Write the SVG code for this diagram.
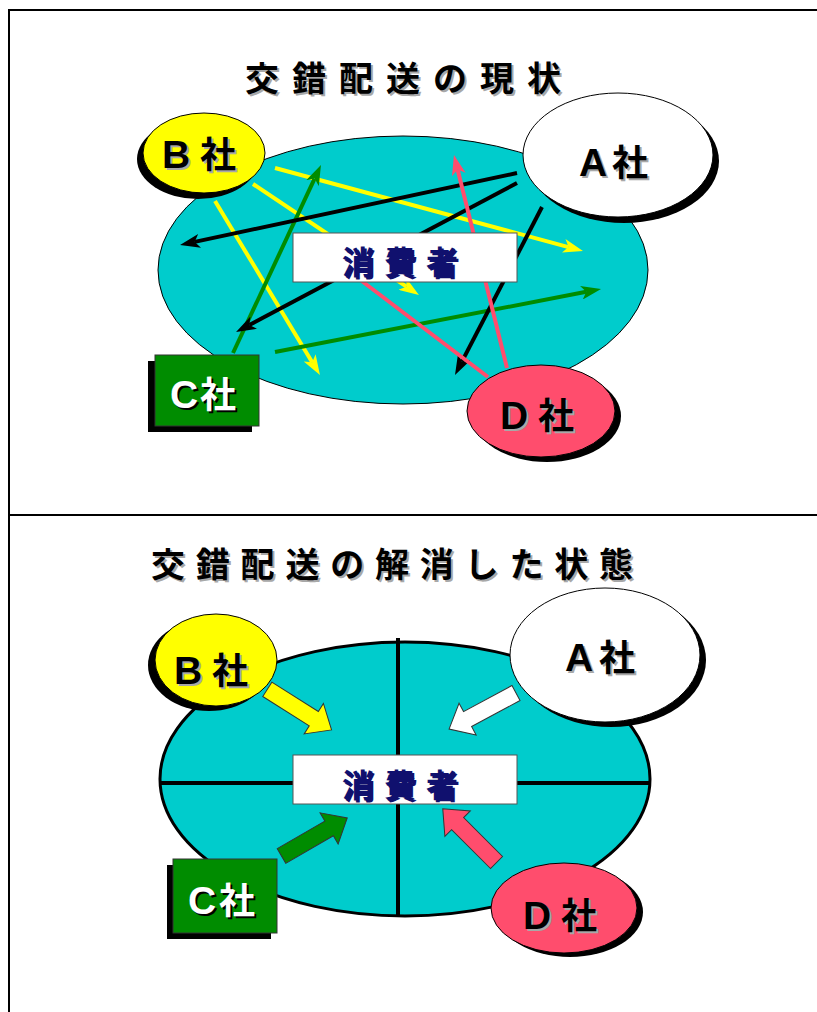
<svg xmlns="http://www.w3.org/2000/svg" width="817" height="1012" viewBox="0 0 817 1012">
<style>
.t{font-family:"Noto Sans CJK JP","Noto Sans CJK SC",sans-serif;font-weight:bold}
.lat{font-family:"Liberation Sans",Arial,sans-serif;font-weight:bold;font-size:39px}
.title{font-size:34px;fill:#000}
.lbl{font-size:36px;fill:#000}
.sh{fill:#a8a8a8}
.shd{fill:#000}
.wt{fill:#fff}
.cons{font-size:32px;fill:#10106e;letter-spacing:10px}
.box{fill:#fff;stroke:#555;stroke-width:1}
.big{fill:#00cccc;stroke:#000}
.ln{stroke-width:4;fill:none}
.barrow{stroke:#333;stroke-width:1}
</style>
<defs>
<marker id="mY" viewBox="0 0 20 14" refX="5" refY="7" markerWidth="20" markerHeight="14" markerUnits="userSpaceOnUse" orient="auto"><path d="M0,0 L20,7 L0,14 L5,7 Z" fill="#ffff00"/></marker>
<marker id="mG" viewBox="0 0 20 14" refX="5" refY="7" markerWidth="20" markerHeight="14" markerUnits="userSpaceOnUse" orient="auto"><path d="M0,0 L20,7 L0,14 L5,7 Z" fill="#008c00"/></marker>
<marker id="mK" viewBox="0 0 20 14" refX="5" refY="7" markerWidth="20" markerHeight="14" markerUnits="userSpaceOnUse" orient="auto"><path d="M0,0 L20,7 L0,14 L5,7 Z" fill="#000"/></marker>
<marker id="mP" viewBox="0 0 20 14" refX="5" refY="7" markerWidth="20" markerHeight="14" markerUnits="userSpaceOnUse" orient="auto"><path d="M0,0 L20,7 L0,14 L5,7 Z" fill="#ff4d6d"/></marker>
<polygon id="blockArrow" points="0,-8.5 55,-8.5 55,-18 76,0 55,18 55,8.5 0,8.5"/>
</defs>
<rect width="817" height="1012" fill="#fff"/>
<g id="frame" stroke="#000" stroke-width="2" fill="none">
<line x1="9" y1="10" x2="817" y2="10"/>
<line x1="9" y1="9" x2="9" y2="1012"/>
<line x1="9" y1="515" x2="817" y2="515"/>
</g>

<!-- TOP DIAGRAM -->
<g id="title-top">
<text class="t title sh" x="247" y="93" letter-spacing="13">交錯配送の現状</text>
<text class="t title" x="245" y="91" letter-spacing="13">交錯配送の現状</text>
</g>
<g id="market-top">
<ellipse class="big" cx="403" cy="270" rx="245" ry="134" stroke-width="1"/>
</g>
<g id="connectors-top" class="ln">
<line x1="275" y1="168" x2="568.5" y2="247.1" stroke="#ffff00" marker-end="url(#mY)"/>
<line x1="253" y1="184" x2="406.5" y2="286.7" stroke="#ffff00" marker-end="url(#mY)"/>
<line x1="215" y1="201" x2="312.2" y2="362.2" stroke="#ffff00" marker-end="url(#mY)"/>
<line x1="233" y1="353" x2="314.6" y2="178.6" stroke="#008c00" marker-end="url(#mG)"/>
<line x1="275" y1="352" x2="586.3" y2="291.8" stroke="#008c00" marker-end="url(#mG)"/>
<line x1="517" y1="173" x2="194.7" y2="241.9" stroke="#000" marker-end="url(#mK)"/>
<line x1="517" y1="183" x2="249.3" y2="325" stroke="#000" marker-end="url(#mK)"/>
<line x1="542" y1="207" x2="461.9" y2="361.7" stroke="#000" marker-end="url(#mK)"/>
<line x1="507" y1="368" x2="457.6" y2="169.6" stroke="#ff4d6d" marker-end="url(#mP)"/>
<line x1="488" y1="377" x2="350" y2="272" stroke="#ff4d6d"/>
</g>
<g id="consumer-top">
<rect class="box" x="293" y="233" width="224" height="49"/>
<text class="t cons sh" x="344" y="276">消費者</text>
<text class="t cons" x="342" y="274">消費者</text>
</g>
<g id="companyB-top">
<ellipse cx="198" cy="159" rx="61" ry="40" fill="#000"/>
<ellipse cx="204" cy="153" rx="61" ry="40" fill="#ffff00" stroke="#000" stroke-width="1"/>
<text class="t lbl sh" y="170"><tspan class="lat" x="164">B</tspan><tspan x="202">社</tspan></text>
<text class="t lbl" y="168"><tspan class="lat" x="162">B</tspan><tspan x="200">社</tspan></text>
</g>
<g id="companyA-top">
<ellipse cx="624" cy="161" rx="95" ry="62" fill="#000"/>
<ellipse cx="618" cy="155" rx="95" ry="62" fill="#fff" stroke="#000" stroke-width="1"/>
<text class="t lbl sh" y="178"><tspan class="lat" x="581">A</tspan><tspan x="614">社</tspan></text>
<text class="t lbl" y="176"><tspan class="lat" x="579">A</tspan><tspan x="612">社</tspan></text>
</g>
<g id="companyC-top">
<rect x="148" y="361" width="104" height="71" fill="#000"/>
<rect x="155" y="355" width="104" height="71" fill="#008c00" stroke="#333" stroke-width="1"/>
<text class="t lbl shd" y="410"><tspan class="lat" x="172">C</tspan><tspan x="202">社</tspan></text>
<text class="t lbl wt" y="408"><tspan class="lat" x="170">C</tspan><tspan x="200">社</tspan></text>
</g>
<g id="companyD-top">
<ellipse cx="547" cy="416" rx="74" ry="46" fill="#000"/>
<ellipse cx="541" cy="411" rx="74" ry="46" fill="#ff4d6d" stroke="#000" stroke-width="1"/>
<text class="t lbl sh" y="431"><tspan class="lat" x="502">D</tspan><tspan x="540">社</tspan></text>
<text class="t lbl" y="429"><tspan class="lat" x="500">D</tspan><tspan x="538">社</tspan></text>
</g>

<!-- BOTTOM DIAGRAM -->
<g id="title-bottom">
<text class="t title sh" x="153" y="579" letter-spacing="10.8">交錯配送の解消した状態</text>
<text class="t title" x="151" y="577" letter-spacing="10.8">交錯配送の解消した状態</text>
</g>
<g id="market-bottom">
<ellipse class="big" cx="405" cy="779" rx="245" ry="137" stroke-width="3"/>
<line x1="398" y1="638" x2="398" y2="917" stroke="#000" stroke-width="4"/>
<line x1="160" y1="783" x2="650" y2="783" stroke="#000" stroke-width="4"/>
</g>
<g id="consumer-bottom">
<rect class="box" x="293" y="755" width="224" height="49"/>
<text class="t cons sh" x="344" y="799">消費者</text>
<text class="t cons" x="342" y="797">消費者</text>
</g>
<g id="connectors-bottom" class="barrow">
<use href="#blockArrow" transform="translate(267.3,689.3) rotate(32.3)" fill="#ffff00"/>
<use href="#blockArrow" transform="translate(516,693) rotate(151.7)" fill="#fff"/>
<use href="#blockArrow" transform="translate(281.5,856) rotate(-30.1)" fill="#008c00"/>
<use href="#blockArrow" transform="translate(496.5,862.5) rotate(-135)" fill="#ff4d6d"/>
</g>
<g id="companyB-bottom">
<ellipse cx="209" cy="665" rx="61" ry="46" fill="#000"/>
<ellipse cx="216" cy="660" rx="61" ry="46" fill="#ffff00" stroke="#000" stroke-width="1"/>
<text class="t lbl sh" y="686"><tspan class="lat" x="176">B</tspan><tspan x="214">社</tspan></text>
<text class="t lbl" y="684"><tspan class="lat" x="174">B</tspan><tspan x="212">社</tspan></text>
</g>
<g id="companyA-bottom">
<ellipse cx="611" cy="660" rx="95" ry="67" fill="#000"/>
<ellipse cx="605" cy="655" rx="95" ry="67" fill="#fff" stroke="#000" stroke-width="1"/>
<text class="t lbl sh" y="673"><tspan class="lat" x="567">A</tspan><tspan x="601">社</tspan></text>
<text class="t lbl" y="671"><tspan class="lat" x="565">A</tspan><tspan x="599">社</tspan></text>
</g>
<g id="companyC-bottom">
<rect x="167" y="865" width="104" height="74" fill="#000"/>
<rect x="173" y="859" width="104" height="74" fill="#008c00" stroke="#333" stroke-width="1"/>
<text class="t lbl shd" y="916"><tspan class="lat" x="190">C</tspan><tspan x="221">社</tspan></text>
<text class="t lbl wt" y="914"><tspan class="lat" x="188">C</tspan><tspan x="219">社</tspan></text>
</g>
<g id="companyD-bottom">
<ellipse cx="570" cy="912" rx="73" ry="45" fill="#000"/>
<ellipse cx="564" cy="908" rx="73" ry="45" fill="#ff4d6d" stroke="#000" stroke-width="1"/>
<text class="t lbl sh" y="931"><tspan class="lat" x="525">D</tspan><tspan x="563">社</tspan></text>
<text class="t lbl" y="929"><tspan class="lat" x="523">D</tspan><tspan x="561">社</tspan></text>
</g>
</svg>
